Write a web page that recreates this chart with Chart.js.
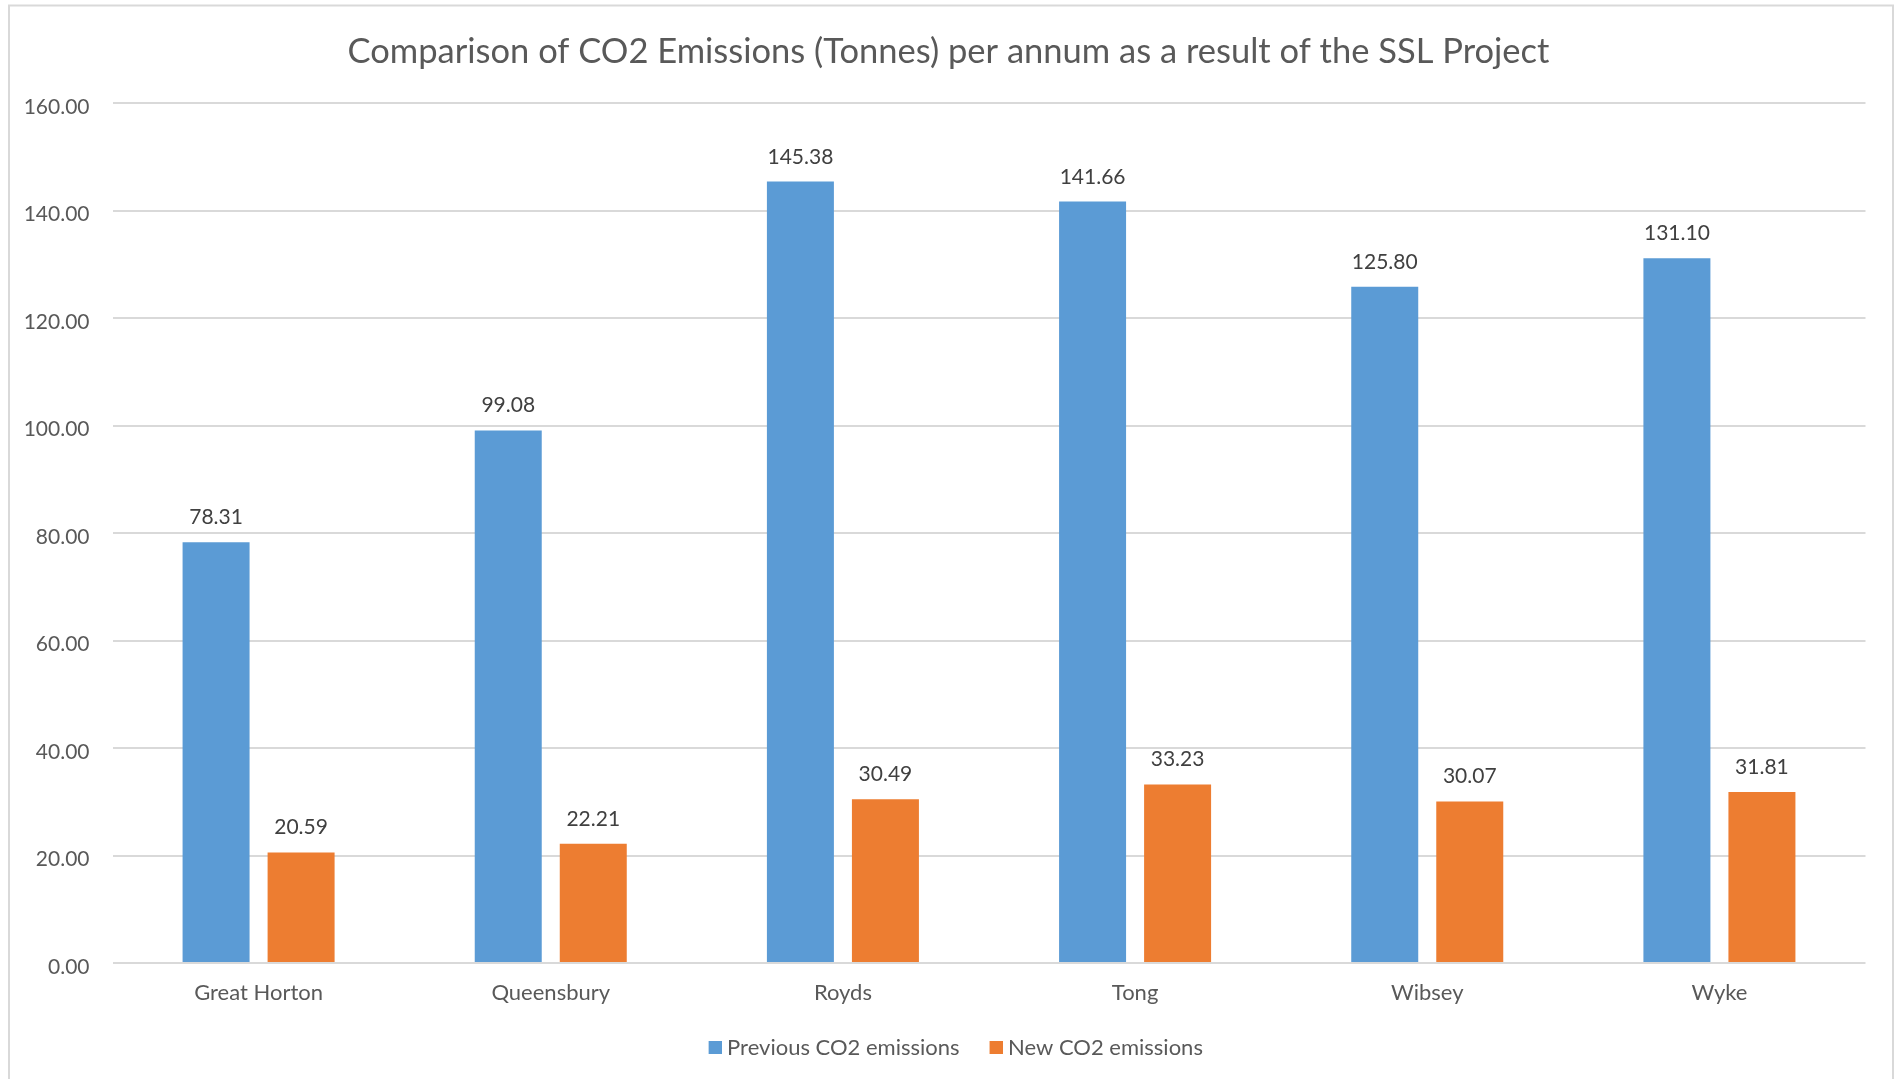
<!DOCTYPE html>
<html>
<head>
<meta charset="utf-8">
<title>CO2 Emissions Comparison</title>
<script src="https://cdn.jsdelivr.net/npm/chart.js@4/dist/chart.umd.min.js"></script>
<style>
  html, body { margin: 0; padding: 0; background: #ffffff; }
  #chart { display: block; }
</style>
</head>
<body>
<canvas id="chart" width="1897" height="1079"></canvas>
<script>
// Wards covered by the SSL Project
const wards = ['Great Horton', 'Queensbury', 'Royds', 'Tong', 'Wibsey', 'Wyke'];

// Annual CO2 emissions in tonnes
const previousEmissions = [78.31, 99.08, 145.38, 141.66, 125.80, 131.10];
const newEmissions = [20.59, 22.21, 30.49, 33.23, 30.07, 31.81];

// Value axis ticks
const yTicks = [0, 20, 40, 60, 80, 100, 120, 140, 160];

const seriesNames = ['Previous CO2 emissions', 'New CO2 emissions'];
const seriesColors = ['#5b9bd5', '#ed7d31'];
const chartTitle = 'Comparison of CO2 Emissions (Tonnes) per annum as a result of the SSL Project';

const FONT = 'Lato';
const TEXT = '#595959';
const LEGEND_FONT = 22;
const SWATCH = 13;
const LEGEND_BOX = 22;

// Legend swatch: a small square sitting at the right of a transparent strip,
// so it hugs the label text more tightly than the default box does.
function makeSwatch(color) {
  const c = document.createElement('canvas');
  c.width = LEGEND_BOX + LEGEND_FONT / 2;
  c.height = SWATCH;
  const g = c.getContext('2d');
  g.fillStyle = color;
  g.fillRect(c.width - SWATCH, 0, SWATCH, SWATCH);
  return c;
}
const swatches = seriesColors.map(makeSwatch);

// White page with a light grey frame around the chart
const framePlugin = {
  id: 'frame',
  beforeDraw(chart) {
    const ctx = chart.ctx;
    ctx.save();
    ctx.fillStyle = '#ffffff';
    ctx.fillRect(0, 0, chart.width, chart.height);
    ctx.strokeStyle = '#d9d9d9';
    ctx.lineWidth = 2;
    ctx.strokeRect(9, 5.5, 1884, 1200);
    ctx.restore();
  }
};

// Value labels above each bar
const valueLabels = {
  id: 'valueLabels',
  afterDatasetsDraw(chart) {
    const ctx = chart.ctx;
    ctx.save();
    ctx.font = '21px ' + FONT;
    ctx.fillStyle = '#404040';
    ctx.textAlign = 'center';
    ctx.textBaseline = 'alphabetic';
    chart.data.datasets.forEach((ds, i) => {
      chart.getDatasetMeta(i).data.forEach((bar, j) => {
        ctx.fillText(ds.data[j].toFixed(2), bar.x, bar.y - 18);
      });
    });
    ctx.restore();
  }
};

new Chart(document.getElementById('chart'), {
  type: 'bar',
  data: {
    labels: wards,
    datasets: [
      {
        label: seriesNames[0],
        data: previousEmissions,
        backgroundColor: seriesColors[0],
        categoryPercentage: 0.582,
        barPercentage: 0.788
      },
      {
        label: seriesNames[1],
        data: newEmissions,
        backgroundColor: seriesColors[1],
        categoryPercentage: 0.582,
        barPercentage: 0.788
      }
    ]
  },
  options: {
    responsive: false,
    animation: false,
    layout: { padding: { top: 0, left: 0, right: 0, bottom: 10.5 } },
    plugins: {
      title: {
        display: true,
        text: chartTitle,
        color: TEXT,
        font: { family: FONT, size: 34.5, weight: 'normal' },
        padding: { top: 31, bottom: 30.6 }
      },
      legend: {
        position: 'bottom',
        labels: {
          color: TEXT,
          font: { family: FONT, size: LEGEND_FONT },
          usePointStyle: true,
          boxWidth: LEGEND_BOX,
          boxHeight: SWATCH,
          padding: 15.5,
          generateLabels(chart) {
            const items = Chart.defaults.plugins.legend.labels.generateLabels(chart);
            items.forEach((item, i) => { item.pointStyle = swatches[item.datasetIndex ?? i]; });
            return items;
          }
        }
      },
      tooltip: { enabled: false }
    },
    scales: {
      x: {
        grid: { display: false, drawTicks: false },
        border: { display: false },
        ticks: { color: TEXT, font: { family: FONT, size: 22 }, padding: 17 },
        afterFit(scale) { scale.height = scale.height - 2.5; }
      },
      y: {
        min: 0,
        max: 160,
        afterBuildTicks(scale) { scale.ticks = yTicks.map(v => ({ value: v })); },
        afterFit(scale) { scale.width = 112.5; },
        grid: { color: '#d9d9d9', lineWidth: 2, drawTicks: false },
        border: { display: false },
        ticks: {
          color: TEXT,
          font: { family: FONT, size: 21 },
          padding: 23,
          labelOffset: 4,
          callback: v => Number(v).toFixed(2)
        }
      },
      // empty right-hand strip keeping the plot clear of the frame
      gutter: {
        type: 'linear',
        position: 'right',
        grid: { display: false, drawTicks: false },
        border: { display: false },
        ticks: { display: false },
        afterFit(scale) { scale.width = 31.5; }
      }
    }
  },
  plugins: [framePlugin, valueLabels]
});
</script>
</body>
</html>
